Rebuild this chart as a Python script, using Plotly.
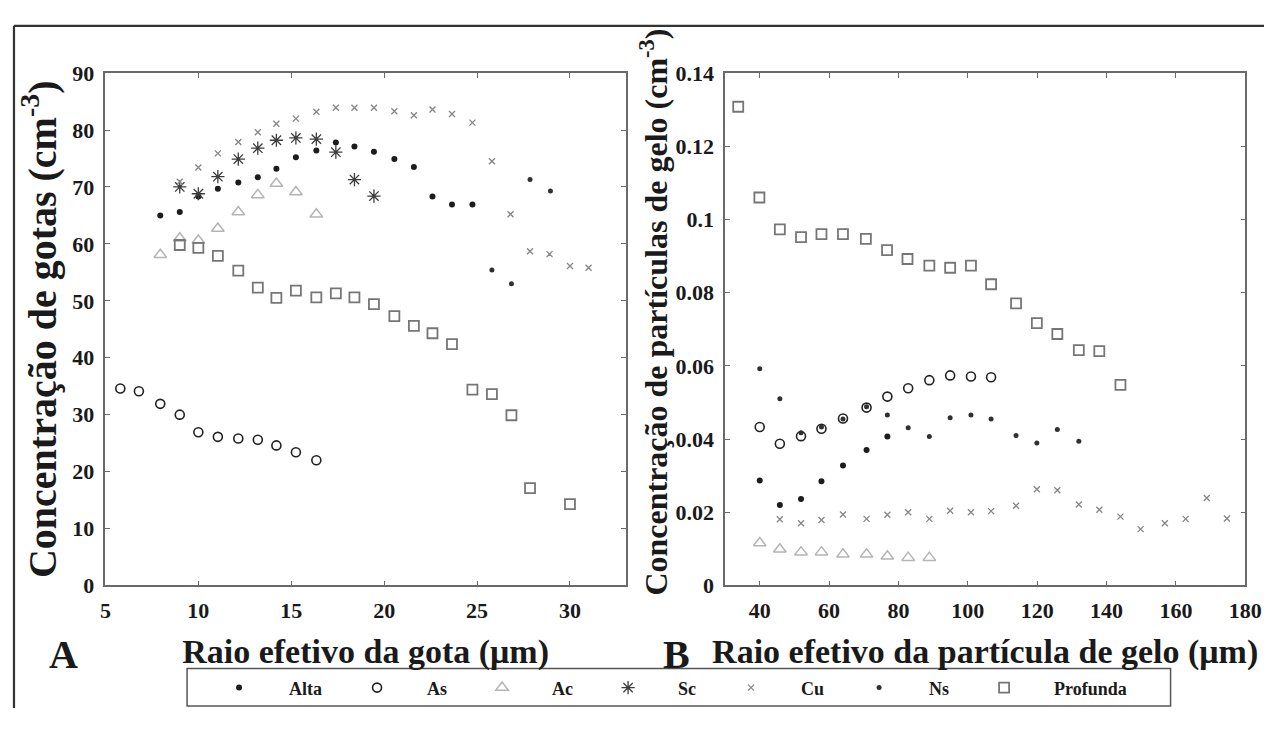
import plotly.graph_objects as go

# ---------------- data: panel A (droplets) ----------------
a_alta_x = [7.95, 9.0, 10.0, 11.05, 12.15, 13.2, 14.2, 15.25, 16.35, 17.4, 18.4, 19.45, 20.55, 21.6, 22.6, 23.65, 24.75]
a_alta_y = [65.0, 65.6, 68.3, 69.7, 70.8, 71.7, 73.2, 75.2, 76.4, 77.8, 77.1, 76.2, 74.9, 73.5, 68.3, 66.9, 66.9]

a_as_x = [5.8, 6.8, 7.95, 9.0, 10.0, 11.05, 12.15, 13.2, 14.2, 15.25, 16.35]
a_as_y = [34.6, 34.1, 31.9, 30.0, 26.9, 26.1, 25.8, 25.6, 24.6, 23.4, 22.0]

a_ac_x = [7.95, 9.0, 10.0, 11.05, 12.15, 13.2, 14.2, 15.25, 16.35]
a_ac_y = [58.1, 61.0, 60.6, 62.7, 65.6, 68.6, 70.6, 69.1, 65.2]

a_sc_x = [9.0, 10.0, 11.05, 12.15, 13.2, 14.2, 15.25, 16.35, 17.4, 18.4, 19.45]
a_sc_y = [70.0, 68.8, 71.8, 74.9, 76.8, 78.2, 78.6, 78.4, 76.1, 71.3, 68.4]

a_cu_x = [9.0, 10.0, 11.05, 12.15, 13.2, 14.2, 15.25, 16.35, 17.4, 18.4, 19.45, 20.55,
          21.6, 22.6, 23.65, 24.75, 25.8, 26.8, 27.85, 28.9, 30.0, 31.0]
a_cu_y = [70.9, 73.4, 75.9, 77.9, 79.6, 81.1, 82.0, 83.2, 83.9, 83.9, 83.9, 83.3,
          82.6, 83.6, 82.8, 81.3, 74.5, 65.2, 58.7, 58.2, 56.1, 55.8]

a_ns_x = [25.8, 26.85, 27.85, 28.95]
a_ns_y = [55.4, 53.0, 71.3, 69.3]

a_pr_x = [9.0, 10.0, 11.05, 12.15, 13.2, 14.2, 15.25, 16.35, 17.4, 18.4, 19.45, 20.55,
          21.6, 22.6, 23.65, 24.75, 25.8, 26.85, 27.85, 30.0]
a_pr_y = [59.8, 59.3, 57.9, 55.3, 52.3, 50.5, 51.8, 50.6, 51.3, 50.6, 49.4, 47.3,
          45.6, 44.3, 42.4, 34.4, 33.6, 29.9, 17.1, 14.3]

# ---------------- data: panel B (ice particles) ----------------
b_alta_x = [40.0, 45.8, 51.9, 57.8, 64.0, 70.8, 76.8]
b_alta_y = [0.0287, 0.0220, 0.0236, 0.0285, 0.0328, 0.0370, 0.0407]

b_as_x = [40.0, 45.8, 51.9, 57.8, 64.0, 70.8, 76.8, 82.8, 88.9, 94.9, 100.9, 106.7]
b_as_y = [0.0433, 0.0387, 0.0408, 0.0428, 0.0456, 0.0486, 0.0516, 0.0539, 0.0561, 0.0574, 0.0571, 0.0569]

b_ac_x = [40.0, 45.8, 51.9, 57.8, 64.0, 70.8, 76.8, 82.8, 88.9]
b_ac_y = [0.0116, 0.0099, 0.0091, 0.0091, 0.0085, 0.0085, 0.0080, 0.0076, 0.0076]

b_cu_x = [45.8, 51.9, 57.8, 64.0, 70.8, 76.8, 82.8, 88.9, 94.9, 100.9, 106.7, 113.9,
          119.9, 125.8, 132.0, 137.9, 144.0, 149.8, 156.8, 162.8, 168.9, 174.7]
b_cu_y = [0.0181, 0.0170, 0.0179, 0.0194, 0.0182, 0.0193, 0.0200, 0.0182, 0.0204, 0.0200, 0.0203, 0.0218,
          0.0263, 0.0260, 0.0221, 0.0207, 0.0188, 0.0154, 0.0170, 0.0182, 0.0239, 0.0183]

b_ns_x = [40.0, 45.8, 51.9, 57.8, 64.0, 70.8, 76.8, 82.8, 88.9, 94.9, 100.9, 106.7,
          113.9, 119.9, 125.8, 132.0]
b_ns_y = [0.0592, 0.0510, 0.0417, 0.0433, 0.0455, 0.0488, 0.0466, 0.0431, 0.0407, 0.0458, 0.0466, 0.0455,
          0.0410, 0.0389, 0.0426, 0.0394]

b_pr_x = [33.8, 39.9, 45.8, 51.9, 57.8, 64.0, 70.6, 76.7, 82.6, 88.9, 94.9, 100.9,
          106.7, 113.9, 119.9, 125.8, 132.0, 137.9, 144.0]
b_pr_y = [0.1308, 0.1060, 0.0973, 0.0952, 0.0960, 0.0960, 0.0947, 0.0916, 0.0892, 0.0874, 0.0868, 0.0874,
          0.0823, 0.0771, 0.0717, 0.0687, 0.0643, 0.0640, 0.0548]

series_names = ["Alta", "As", "Ac", "Sc", "Cu", "Ns", "Profunda"]

xticks_a = [5, 10, 15, 20, 25, 30]
yticks_a = [0, 10, 20, 30, 40, 50, 60, 70, 80, 90]
xticks_b = [40, 60, 80, 100, 120, 140, 160, 180]
yticks_b = [0, 0.02, 0.04, 0.06, 0.08, 0.1, 0.12, 0.14]
yticklabels_b = ["0", "0.02", "0.04", "0.06", "0.08", "0.1", "0.12", "0.14"]

title_xa = "Raio efetivo da gota (μm)"
title_ya = "Concentração de gotas (cm<sup>-3</sup>)"
title_xb = "Raio efetivo da partícula de gelo (μm)"
title_yb = "Concentração de partículas de gelo (cm<sup>-3</sup>)"

# ---------------- styles / geometry ----------------
OFF = 8                      # default page margin of the html body
W, H = 1288 - 2 * OFF, 729 - 2 * OFF
FONT = "Liberation Serif, Times New Roman, serif"

styles = {
    "Alta": dict(symbol="circle", size=6, color="#1c1c1c", line=dict(width=0)),
    "As": dict(symbol="circle-open", size=9, color="#222222", line=dict(width=1.6, color="#222222")),
    "Ac": dict(symbol="triangle-up-open", size=11, color="#b4b4b4", line=dict(width=1.5, color="#b4b4b4")),
    "Sc": dict(symbol="asterisk-open", size=11, color="#3c3c3c", line=dict(width=1.3, color="#3c3c3c")),
    "Cu": dict(symbol="x-thin-open", size=6, color="#858585", line=dict(width=1.3, color="#858585")),
    "Ns": dict(symbol="circle", size=5, color="#303030", line=dict(width=0)),
    "Profunda": dict(symbol="square-open", size=10, color="#767676", line=dict(width=1.8, color="#767676")),
}

panel_a = {
    "Alta": (a_alta_x, a_alta_y), "As": (a_as_x, a_as_y), "Ac": (a_ac_x, a_ac_y),
    "Sc": (a_sc_x, a_sc_y), "Cu": (a_cu_x, a_cu_y), "Ns": (a_ns_x, a_ns_y),
    "Profunda": (a_pr_x, a_pr_y),
}
panel_b = {
    "Alta": (b_alta_x, b_alta_y), "As": (b_as_x, b_as_y), "Ac": (b_ac_x, b_ac_y),
    "Cu": (b_cu_x, b_cu_y), "Ns": (b_ns_x, b_ns_y), "Profunda": (b_pr_x, b_pr_y),
}

fig = go.Figure()
for name in series_names:
    x, y = panel_a[name]
    fig.add_trace(go.Scatter(x=x, y=y, mode="markers", name=name, legendgroup=name,
                             marker=styles[name], xaxis="x", yaxis="y", showlegend=True))
for name in series_names:
    if name in panel_b:
        x, y = panel_b[name]
        fig.add_trace(go.Scatter(x=x, y=y, mode="markers", name=name, legendgroup=name,
                                 marker=styles[name], xaxis="x2", yaxis="y2", showlegend=False))


def px(v):
    return (v - OFF) / W


def py(v):
    return 1 - (v - OFF) / H


axis_common = dict(showgrid=False, zeroline=False, showline=True, linecolor="#6a6a6a", linewidth=1.5,
                   mirror="ticks", ticks="inside", ticklen=5, tickwidth=1, tickcolor="#6a6a6a",
                   tickfont=dict(family=FONT, size=22, color="#1a1a1a", weight="bold"))
tfont = dict(family=FONT, color="#1a1a1a", weight="bold")

fig.update_layout(
    width=W, height=H, margin=dict(l=0, r=0, t=0, b=0),
    paper_bgcolor="white", plot_bgcolor="white",
    xaxis=dict(domain=[px(102), px(631)], range=[5, 33], tickvals=xticks_a, anchor="y",
               ticklabelstandoff=4,
               title=dict(text=title_xa, font=dict(size=34, **tfont), standoff=18), **axis_common),
    yaxis=dict(domain=[py(594), py(63)], range=[0, 90], tickvals=yticks_a, anchor="x",
               ticklabelstandoff=5,
               title=dict(text=title_ya, font=dict(size=40, **tfont), standoff=3), **axis_common),
    xaxis2=dict(domain=[px(732), px(1261)], range=[30, 180], tickvals=xticks_b, anchor="y2",
                ticklabelstandoff=4,
                title=dict(text=title_xb, font=dict(size=34, **tfont), standoff=18), **axis_common),
    yaxis2=dict(domain=[py(594), py(63)], range=[0, 0.14], tickvals=yticks_b, ticktext=yticklabels_b,
                anchor="x2", ticklabelstandoff=5, **axis_common),
    showlegend=True,
    legend=dict(orientation="h", x=px(187), y=py(681), xanchor="left", yanchor="top",
                borderwidth=0, bgcolor="rgba(0,0,0,0)",
                font=dict(family=FONT, size=18, color="#1a1a1a", weight="bold"),
                itemwidth=90, traceorder="normal", itemclick=False),
)

# outer frame (top and left border)
fig.add_shape(type="line", xref="paper", yref="paper", x0=px(9), x1=1, y0=py(14), y1=py(14),
              line=dict(color="#333333", width=2.2))
fig.add_shape(type="line", xref="paper", yref="paper", x0=px(9), x1=px(9), y0=py(14), y1=0,
              line=dict(color="#333333", width=2.2))
# legend box
fig.add_shape(type="rect", xref="paper", yref="paper", x0=px(185), x1=px(1185), y0=py(719), y1=py(680),
              line=dict(color="#555555", width=1.5), fillcolor="rgba(0,0,0,0)")

# right-hand y title (sits a little above the axis centre, as in the original)
fig.add_annotation(text=title_yb, xref="paper", yref="paper", x=px(660), y=py(311), showarrow=False,
                   textangle=-90, xanchor="center", yanchor="middle", font=dict(size=32, **tfont))

for txt, xc in (("A", 59), ("B", 683)):
    fig.add_annotation(text=txt, xref="paper", yref="paper", x=px(xc), y=py(666), showarrow=False,
                       xanchor="center", yanchor="middle", font=dict(size=40, **tfont))

fig.write_html("out.html")
